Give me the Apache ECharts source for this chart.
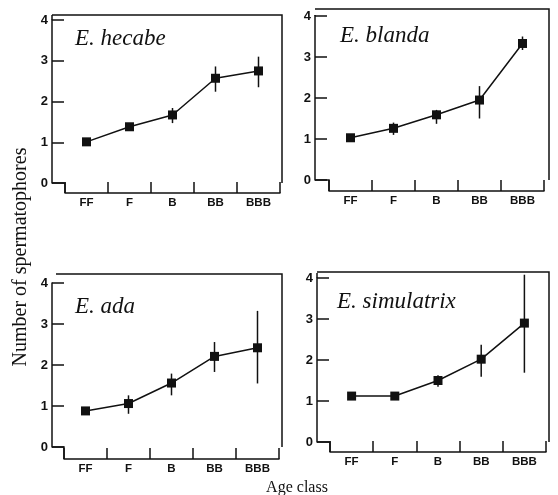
<!DOCTYPE html>
<html>
<head>
<meta charset="utf-8">
<script src="https://cdn.jsdelivr.net/npm/echarts@6/dist/echarts.min.js"></script>
<style>
  html, body { margin: 0; padding: 0; background: #fff; }
  #chart { width: 558px; height: 495px; }
</style>
</head>
<body>
<div id="chart"></div>
<script>
// age classes on the x axis
var categories = ['FF', 'F', 'B', 'BB', 'BBB'];
var species = ['E. hecabe', 'E. blanda', 'E. ada', 'E. simulatrix'];
var yTicks = [0, 1, 2, 3, 4];

// mean number of spermatophores, with error bar ends
var hecabeMean = [1.01, 1.38, 1.67, 2.57, 2.75];
var hecabeLow  = [0.96, 1.30, 1.47, 2.24, 2.35];
var hecabeHigh = [1.06, 1.46, 1.84, 2.86, 3.10];

var blandaMean = [1.03, 1.26, 1.59, 1.95, 3.33];
var blandaLow  = [0.98, 1.10, 1.37, 1.50, 3.17];
var blandaHigh = [1.08, 1.40, 1.71, 2.29, 3.50];

var adaMean = [0.88, 1.06, 1.56, 2.21, 2.42];
var adaLow  = [0.83, 0.81, 1.26, 1.83, 1.55];
var adaHigh = [0.93, 1.26, 1.79, 2.56, 3.32];

var simMean = [1.12, 1.12, 1.50, 2.02, 2.90];
var simLow  = [1.07, 1.07, 1.35, 1.59, 1.69];
var simHigh = [1.17, 1.17, 1.63, 2.37, 4.08];

var means = [hecabeMean, blandaMean, adaMean, simMean];
var lows = [hecabeLow, blandaLow, adaLow, simLow];
var highs = [hecabeHigh, blandaHigh, adaHigh, simHigh];

// panel layout in pixels
var panels = [
    { yAxisX: 52, yTop: 15, xStart: 65, xEnd: 280, y4: 20, y0: 183, xAxisY: 193, topX: 52, topY: 15, rightX: 282, titleX: 75, titleY: 39 },
    { yAxisX: 315, yTop: 15, xStart: 329, xEnd: 544, y4: 16, y0: 180, xAxisY: 191, topX: 315, topY: 9, rightX: 549, titleX: 340, titleY: 36 },
    { yAxisX: 52, yTop: 283, xStart: 64, xEnd: 279, y4: 283, y0: 447, xAxisY: 459, topX: 56, topY: 274, rightX: 282, titleX: 75, titleY: 307 },
    { yAxisX: 317, yTop: 273, xStart: 330, xEnd: 546, y4: 278, y0: 442, xAxisY: 452, topX: 317, topY: 272, rightX: 549, titleX: 337, titleY: 302 }
];

var ink = '#111';
var chart = echarts.init(document.getElementById('chart'));

var grids = [], xAxes = [], yAxes = [], series = [], graphics = [];

panels.forEach(function (p, i) {
    grids.push({ left: p.xStart, top: p.y4, width: p.xEnd - p.xStart, height: p.y0 - p.y4 });
    xAxes.push({
        type: 'category', gridIndex: i, data: categories, offset: p.xAxisY - p.y0,
        axisLine: { show: true, onZero: false, lineStyle: { color: ink, width: 1.5 } },
        axisTick: { show: true, interval: 0, alignWithLabel: false, inside: true, length: 11, lineStyle: { color: ink, width: 1.5 } },
        axisLabel: { interval: 0, margin: 4, color: ink, fontSize: 11.5, fontWeight: 'bold', fontFamily: 'Liberation Sans' }
    });
    yAxes.push({
        type: 'value', gridIndex: i, min: yTicks[0], max: yTicks[yTicks.length - 1], interval: 1,
        offset: p.xStart - p.yAxisX,
        axisLine: { show: true, lineStyle: { color: ink, width: 1.5 } },
        axisTick: { show: true, inside: true, length: 12, lineStyle: { color: ink, width: 1.5 } },
        axisLabel: { margin: 4, color: ink, fontSize: 13, fontWeight: 'bold', fontFamily: 'Liberation Sans' },
        splitLine: { show: false }
    });
    series.push({
        type: 'custom', xAxisIndex: i, yAxisIndex: i, z: 1,
        data: categories.map(function (c, k) { return [k, lows[i][k], highs[i][k]]; }),
        renderItem: function (params, api) {
            var a = api.coord([api.value(0), api.value(1)]);
            var b = api.coord([api.value(0), api.value(2)]);
            return { type: 'line', shape: { x1: a[0], y1: a[1], x2: b[0], y2: b[1] }, style: { stroke: ink, lineWidth: 1.5 } };
        }
    });
    series.push({
        type: 'line', xAxisIndex: i, yAxisIndex: i, z: 2, data: means[i],
        symbol: 'rect', symbolSize: 9, showSymbol: true,
        lineStyle: { color: ink, width: 1.5 }, itemStyle: { color: ink },
        emphasis: { disabled: true }
    });
    // frame: y axis above 4, top and right border, step to the x axis
    graphics.push({ type: 'polyline', shape: { points: [[p.yAxisX, p.y4], [p.yAxisX, p.yTop]] }, style: { stroke: ink, lineWidth: 1.5, fill: null } });
    graphics.push({ type: 'polyline', shape: { points: [[p.topX, p.topY], [p.rightX, p.topY], [p.rightX, p.y0]] }, style: { stroke: ink, lineWidth: 1.5, fill: null } });
    graphics.push({ type: 'polyline', shape: { points: [[p.yAxisX, p.y0], [p.xStart, p.y0], [p.xStart, p.xAxisY]] }, style: { stroke: ink, lineWidth: 1.5, fill: null } });
    graphics.push({
        type: 'text', x: p.titleX, y: p.titleY,
        style: { text: species[i], fill: ink, font: 'italic 23px "Liberation Serif"', verticalAlign: 'middle' }
    });
});

graphics.push({
    type: 'text', x: 21, y: 257, rotation: Math.PI / 2,
    style: { text: 'Number of spermatophores', fill: ink, font: '20px "Liberation Serif"', align: 'center', verticalAlign: 'middle' }
});
graphics.push({
    type: 'text', x: 297, y: 488,
    style: { text: 'Age class', fill: ink, font: '16px "Liberation Serif"', align: 'center', verticalAlign: 'middle' }
});

chart.setOption({
    animation: false,
    backgroundColor: '#fff',
    grid: grids,
    xAxis: xAxes,
    yAxis: yAxes,
    series: series,
    graphic: graphics
});
</script>
</body>
</html>
